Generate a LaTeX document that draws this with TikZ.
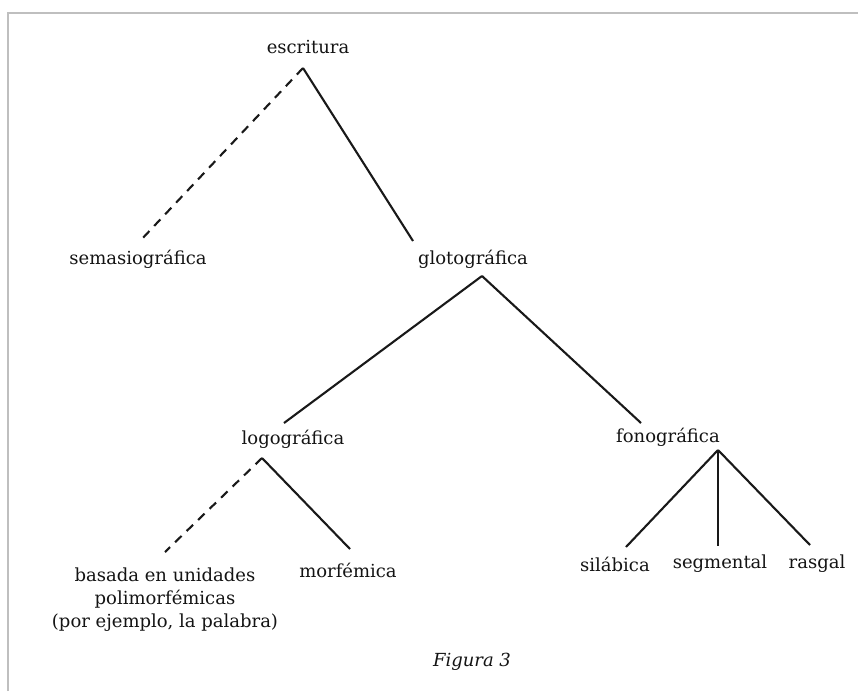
\documentclass[tikz,border=0pt]{standalone}
\usepackage{fontspec}
\setmainfont{DejaVu Serif}
\begin{document}
\begin{tikzpicture}[x=1pt,y=-1pt,
  lbl/.style={font=\fontsize{18}{23}\selectfont, inner sep=0pt, text=black!92, align=center},
  edge/.style={line width=2.1pt, black!90},
  dedge/.style={line width=2.1pt, black!90, dash pattern=on 9pt off 7pt}]
\useasboundingbox (0,0) rectangle (858,691);
\fill[white] (0,0) rectangle (858,691);
\draw[black!25, line width=1.2pt] (8,691) -- (8,13) -- (858,13);
% nodes
\node[lbl] (esc) at (308,47) {escritura};
\node[lbl] (sem) at (138,259) {semasiográfica};
\node[lbl] (glo) at (473,259) {glotográfica};
\node[lbl] (log) at (293,439) {logográfica};
\node[lbl] (fon) at (668,437) {fonográfica};
\node[lbl] (bas) at (165,600) {basada en unidades\\polimorfémicas\\(por ejemplo, la palabra)};
\node[lbl] (mor) at (348,570) {morfémica};
\node[lbl] (sil) at (615,564) {silábica};
\node[lbl] (seg) at (720,564) {segmental};
\node[lbl] (ras) at (817,564) {rasgal};
\node[lbl, font=\fontsize{18}{23}\selectfont\itshape] (fig) at (472,662) {Figura 3};
% connector points
\coordinate (escA) at (303,68);
\coordinate (semE) at (140,241);
\coordinate (gloE) at (413,241);
\coordinate (gloA) at (482,276);
\coordinate (logE) at (284,423);
\coordinate (fonE) at (641,423);
\coordinate (logA) at (262,458);
\coordinate (basE) at (165,552);
\coordinate (morE) at (350,549);
\coordinate (fonA) at (718,450);
\coordinate (silE) at (626,547);
\coordinate (segE) at (718,546);
\coordinate (rasE) at (810,545);
% connectors
\draw[dedge] (escA) -- (semE);
\draw[edge] (escA) -- (gloE);
\draw[edge] (gloA) -- (logE);
\draw[edge] (gloA) -- (fonE);
\draw[dedge] (logA) -- (basE);
\draw[edge] (logA) -- (morE);
\draw[edge] (fonA) -- (silE);
\draw[edge] (fonA) -- (segE);
\draw[edge] (fonA) -- (rasE);
\end{tikzpicture}
\end{document}
